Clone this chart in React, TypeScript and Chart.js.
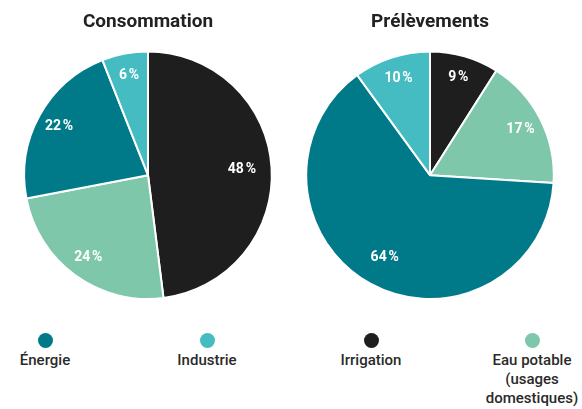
import React, { useEffect, useRef } from "react";
import { Chart, registerables } from "chart.js";

Chart.register(...registerables);

const categories = ["Irrigation", "Eau potable (usages domestiques)", "Énergie", "Industrie"];
const consommation = [48, 24, 22, 6];
const prelevements = [9, 17, 64, 10];
const colors = ["#1e1e1e", "#7fc7ab", "#007a88", "#45bcc1"];
const titles = ["Consommation", "Prélèvements"];

const legendItems = [
  { label: ["Énergie"], color: "#007a88" },
  { label: ["Industrie"], color: "#45bcc1" },
  { label: ["Irrigation"], color: "#1e1e1e" },
  { label: ["Eau potable", "(usages", "domestiques)"], color: "#7fc7ab" },
];
const legendX = [45, 207, 371, 532];

const FONT = "Roboto, 'Open Sans', sans-serif";

const labelPlugin = {
  id: "sliceLabels",
  afterDatasetsDraw(chart: any) {
    const { ctx } = chart;
    const meta = chart.getDatasetMeta(0);
    const data = chart.data.datasets[0].data as number[];
    ctx.save();
    ctx.fillStyle = "#ffffff";
    ctx.font = `bold 14px ${FONT}`;
    ctx.textAlign = "center";
    ctx.textBaseline = "middle";
    meta.data.forEach((arc: any, i: number) => {
      const p = arc.getProps(["x", "y", "startAngle", "endAngle", "outerRadius"], true);
      const mid = (p.startAngle + p.endAngle) / 2;
      const r = p.outerRadius * (data[i] > 40 ? 0.76 : 0.82);
      ctx.fillText(`${data[i]}\u202F%`, p.x + Math.cos(mid) * r, p.y + Math.sin(mid) * r);
    });
    ctx.restore();
  },
};

function PieChart({ values, title }: { values: number[]; title: string }) {
  const ref = useRef<HTMLCanvasElement>(null);
  useEffect(() => {
    const chart = new Chart(ref.current!, {
      type: "pie",
      data: {
        labels: categories,
        datasets: [
          {
            data: values,
            backgroundColor: colors,
            borderColor: "#ffffff",
            borderWidth: 2,
          },
        ],
      },
      options: {
        animation: false,
        responsive: false,
        maintainAspectRatio: false,
        layout: { padding: 0 },
        plugins: {
          legend: { display: false },
          tooltip: { enabled: false },
          title: {
            display: true,
            text: title,
            color: "#222222",
            font: { family: FONT, size: 19, weight: "bold", lineHeight: 1.2 },
            padding: { top: 11, bottom: 16.6 },
          },
        },
      },
      plugins: [labelPlugin],
    });
    return () => chart.destroy();
  }, [values, title]);
  return <canvas ref={ref} width={288} height={300} style={{ width: 288, height: 300 }} />;
}

export default function App() {
  return (
    <div
      style={{
        position: "absolute",
        left: 0,
        top: 0,
        width: 582,
        height: 409,
        background: "#ffffff",
        fontFamily: FONT,
      }}
    >
      <div style={{ position: "absolute", left: 4, top: 0 }}>
        <PieChart values={consommation} title={titles[0]} />
      </div>
      <div style={{ position: "absolute", left: 286, top: 0 }}>
        <PieChart values={prelevements} title={titles[1]} />
      </div>
      {legendItems.map((item, i) => (
        <div
          key={i}
          style={{
            position: "absolute",
            left: legendX[i] - 60,
            width: 120,
            top: 333,
            textAlign: "center",
            fontSize: 15,
            fontWeight: 500,
            lineHeight: "19px",
            color: "#2a2a2a",
          }}
        >
          <div
            style={{
              width: 15,
              height: 15,
              borderRadius: "50%",
              background: item.color,
              margin: "0 auto 3px auto",
            }}
          />
          {item.label.map((l, j) => (
            <div key={j}>{l}</div>
          ))}
        </div>
      ))}
    </div>
  );
}
